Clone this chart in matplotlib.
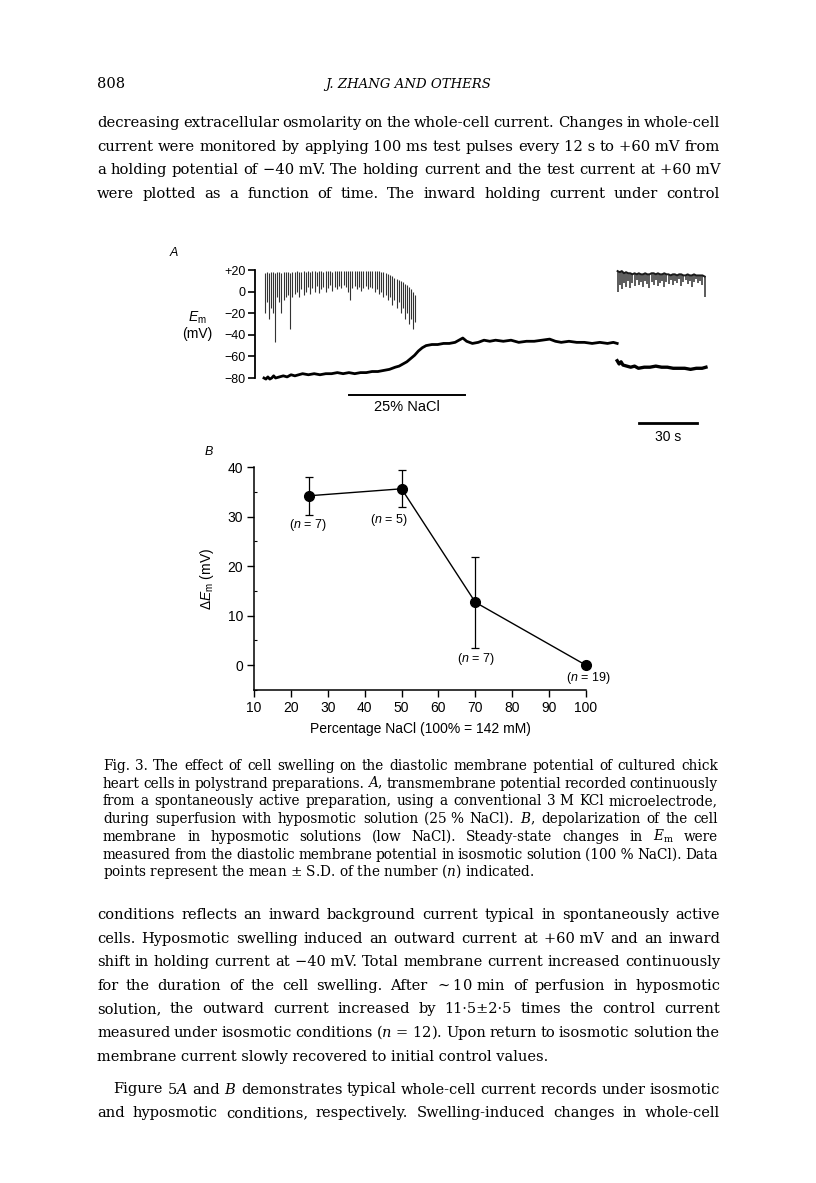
import numpy as np
import matplotlib.pyplot as plt

# ---- page text ----
header_num = "808"
header_title = "J. ZHANG AND OTHERS"

top_lines = [
    "decreasing extracellular osmolarity on the whole-cell current. Changes in whole-cell",
    "current were monitored by applying 100|ms test pulses every 12|s to +60|mV from",
    "a holding potential of \u221240|mV. The holding current and the test current at +60|mV",
    "were plotted as a function of time. The inward holding current under control",
]
caption_lines = [
    "Fig. 3. The effect of cell swelling on the diastolic membrane potential of cultured chick",
    "heart cells in polystrand preparations. $A$, transmembrane potential recorded continuously",
    "from a spontaneously active preparation, using a conventional 3|M KCl microelectrode,",
    "during superfusion with hyposmotic solution (25|% NaCl). $B$, depolarization of the cell",
    "membrane in hyposmotic solutions (low NaCl). Steady-state changes in $E_\\mathrm{m}$ were",
    "measured from the diastolic membrane potential in isosmotic solution (100|% NaCl). Data",
    "points represent the mean|\u00b1|S.D. of the number ($n$) indicated.",
]
bottom_lines = [
    "conditions reflects an inward background current typical in spontaneously active",
    "cells. Hyposmotic swelling induced an outward current at +60|mV and an inward",
    "shift in holding current at \u221240|mV. Total membrane current increased continuously",
    "for the duration of the cell swelling. After $\\sim$10|min of perfusion in hyposmotic",
    "solution, the outward current increased by 11\u00b75\u00b12\u00b75 times the control current",
    "measured under isosmotic conditions ($n$|=|12). Upon return to isosmotic solution the",
    "membrane current slowly recovered to initial control values.",
    "Figure 5$A$ and $B$ demonstrates typical whole-cell current records under isosmotic",
    "and hyposmotic conditions, respectively. Swelling-induced changes in whole-cell",
]
bottom_y = [919, 942.6, 966.2, 989.8, 1013.4, 1037, 1060.6, 1093.5, 1117]

# ---- panel A: membrane potential trace (t in s, Em in mV) ----
base1_t = [0, 1, 2, 3, 4, 5, 6, 8, 10, 12, 14, 16, 18, 20, 23, 26, 29, 32, 35, 38,
           41, 44, 47, 50, 53, 56, 59, 62, 65, 68, 70, 72, 74, 76, 78, 80, 82, 84,
           87, 90, 93, 96, 99, 101, 103, 105, 108, 111, 114, 117, 120, 124, 128,
           132, 136, 140, 144, 148, 151, 154, 158, 162, 166, 170, 174, 178, 181, 183]
base1_v = [-80, -81, -79, -81, -80, -78, -80, -79, -78, -79, -77, -78, -77, -76, -77,
           -76, -77, -76, -76, -75, -76, -75, -76, -75, -75, -74, -74, -73, -72, -70,
           -69, -67, -65, -62, -59, -55, -52, -50, -49, -49, -48, -48, -47, -45, -43,
           -46, -48, -47, -45, -46, -45, -46, -45, -47, -46, -46, -45, -44, -46, -47,
           -46, -47, -47, -48, -47, -48, -47, -48]

spike1_t = [0.5, 1.6, 2.5, 3.5, 4.6, 5.7, 6.8, 7.9, 9.0, 10.2, 11.3, 12.4, 13.6, 14.7,
            15.9, 17.0, 18.2, 19.3, 20.5, 21.6, 22.8, 23.9, 25.1, 26.2, 27.4, 28.5,
            29.7, 30.8, 32.0, 33.1, 34.3, 35.4, 36.6, 37.7, 38.9, 40.0, 41.2, 42.3,
            43.5, 44.6, 45.8, 46.9, 48.1, 49.2, 50.4, 51.5, 52.7, 53.8, 55.0, 56.1,
            57.3, 58.4, 59.6, 60.7, 61.9, 63.0, 64.2, 65.3, 66.5, 67.6, 68.7, 69.8,
            70.9, 72.0, 73.0, 74.0, 75.0, 76.0, 77.0, 78.0]
spike1_peak = [17, 18, 17, 18, 18, 17, 18, 18, 17, 18, 18, 18, 17, 18, 18, 19, 18, 18,
               19, 18, 19, 18, 19, 19, 18, 19, 19, 18, 19, 19, 19, 18, 19, 19, 19, 19,
               19, 19, 19, 19, 19, 19, 19, 19, 19, 19, 19, 19, 19, 19, 19, 19, 19, 18,
               18, 17, 16, 15, 14, 13, 12, 11, 10, 9, 7, 6, 4, 2, 0, -3]
spike1_low = [-20, -10, -25, -15, -20, -47, -5, -10, -20, -8, -5, -3, -35, -5, -2, 0,
              -5, 2, -3, 0, 4, -2, 3, 0, 5, -1, 2, 4, 0, 3, 6, 1, 4, 2, 5, 3, 6, 4,
              0, -8, 3, 5, 2, 4, 1, 3, 5, 2, 4, 3, 0, 2, -2, 0, -5, -3, -8, -5, -12,
              -8, -15, -10, -20, -15, -25, -20, -30, -25, -35, -28]

base2_t = [183, 184, 185, 186, 188, 190, 192, 194, 197, 200, 203, 206, 209, 212, 215,
           218, 221, 224, 227, 229]
base2_v = [-64, -67, -65, -68, -69, -70, -69, -71, -70, -70, -69, -70, -70, -71, -71,
           -71, -72, -71, -71, -70]
spike2_t = [183.2, 184.3, 185.4, 186.5, 187.6, 188.7, 189.8, 190.9, 192.0, 193.1, 194.2,
            195.3, 196.4, 197.5, 198.6, 199.7, 200.8, 201.9, 203.0, 204.1, 205.2,
            206.3, 207.4, 208.5, 209.6, 210.7, 211.8, 212.9, 214.0, 215.1, 216.2,
            217.3, 218.4, 219.5, 220.6, 221.7, 222.8, 223.9, 225.0, 226.1, 227.2, 228.3]
spike2_peak = [19, 18, 19, 17, 18, 17, 17, 16, 17, 16, 17, 16, 16, 17, 16, 16, 17, 17,
               16, 17, 16, 16, 17, 16, 16, 15, 16, 16, 15, 16, 16, 15, 15, 16, 15, 15,
               16, 15, 15, 15, 15, 14]
spike2_low = [0, 6, 2, 8, 4, 10, 3, 8, 5, 11, 6, 9, 4, 10, 7, 3, 9, 6, 11, 5, 8, 10, 4,
              9, 7, 11, 6, 10, 8, 12, 5, 9, 11, 7, 10, 4, 9, 12, 8, 10, 6, -5]

nacl_bar = (44, 104)
scale_bar = (194.3, 224.3)

# ---- panel B ----
nacl_pct = [25, 50, 70, 100]
delta_em = [34.2, 35.6, 12.7, 0.0]
delta_sd = [3.8, 3.7, 9.2, 0.0]
n_labels = ["($n$ = 7)", "($n$ = 5)", "($n$ = 7)", "($n$ = 19)"]
n_pos = [(24.6, 28.3), (46.5, 29.3), (70.2, 1.2), (100.5, -2.6)]

W, H = 816, 1183
plt.rcParams['mathtext.fontset'] = 'custom'
plt.rcParams['mathtext.rm'] = 'Liberation Sans'
plt.rcParams['mathtext.it'] = 'Liberation Sans:italic'
sans = 'Liberation Sans'
serif = 'DejaVu Serif'

fig = plt.figure(figsize=(W / 100, H / 100), dpi=100)
page = fig.add_axes([0, 0, 1, 1])
page.set_xlim(0, W)
page.set_ylim(H, 0)
page.axis('off')
rend = fig.canvas.get_renderer()


def width_of(s, size, **kw):
    t = page.text(0, 0, s, fontsize=size, **kw)
    w = t.get_window_extent(renderer=rend).width
    t.remove()
    return w


def words(line):
    return [w.replace('|', ' ') for w in line.split(' ')]


def text_block(lines, x0, x1, ys, ragged, indent, squeeze=0.75, **kw):
    # pick the size at which the tightest line fits with slightly narrowed
    # spaces, then justify every line that is not a paragraph end
    space10 = width_of('a a', 10, **kw) - width_of('aa', 10, **kw)
    fits = []
    for i, ln in enumerate(lines):
        ws = words(ln)
        nat = sum(width_of(w, 10, **kw) for w in ws) + (len(ws) - 1) * space10 * squeeze
        fits.append((x1 - x0 - indent.get(i, 0)) / nat)
    size = 10 * min(fits)
    for i, ln in enumerate(lines):
        y = ys[i]
        xs = x0 + indent.get(i, 0)
        ws = words(ln)
        if i in ragged:
            page.text(xs, y, ' '.join(ws), fontsize=size, va='baseline', **kw)
            continue
        wd = [width_of(w, size, **kw) for w in ws]
        gap = (x1 - xs - sum(wd)) / (len(ws) - 1)
        x = xs
        for w, d in zip(ws, wd):
            page.text(x, y, w, fontsize=size, va='baseline', **kw)
            x += d + gap
    return size


body_kw = dict(family=serif, math_fontfamily='dejavuserif')
page.text(97, 88, header_num, fontsize=10.5, va='baseline', **body_kw)
hs = 10 * 165 / width_of(header_title, 10, style='italic', **body_kw)
page.text(408, 88, header_title, fontsize=hs, style='italic', ha='center',
          va='baseline', **body_kw)
text_block(top_lines, 97, 720, [127 + 23.6 * i for i in range(4)], set(), {},
           **body_kw)
text_block(caption_lines, 103, 718, [770 + 17.7 * i for i in range(7)], {6}, {},
           **body_kw)
text_block(bottom_lines, 97, 720, bottom_y, {6}, {7: 16}, **body_kw)

# ---- panel A ----
px_per_s = 1.93
t0_px = 264
axA = fig.add_axes([255 / W, 1 - 378 / H, 455 / W, 108 / H])
axA.set_xlim((255 - t0_px) / px_per_s, (710 - t0_px) / px_per_s)
axA.set_ylim(-80, 20)
for sp in ['top', 'right', 'bottom']:
    axA.spines[sp].set_visible(False)
axA.spines['left'].set_linewidth(1.3)
axA.set_xticks([])
axA.set_yticks([20, 0, -20, -40, -60, -80])
axA.set_yticklabels(['+20', '0', '\u221220', '\u221240', '\u221260', '\u221280'])
axA.tick_params(axis='y', direction='out', length=5, width=1.2, pad=2,
                labelsize=9)
for lab in axA.get_yticklabels():
    lab.set_family(sans)
axA.vlines(spike1_t, spike1_low, spike1_peak, color='0.2', lw=0.8, clip_on=False)
axA.vlines(spike2_t, spike2_low, spike2_peak, color='0.25', lw=1.2, clip_on=False)
axA.plot(spike2_t, spike2_peak, color='0.1', lw=1.4, clip_on=False)
axA.plot(base1_t, base1_v, color='black', lw=2.0, clip_on=False)
axA.plot(base2_t, base2_v, color='black', lw=2.4, clip_on=False)
axA.plot(nacl_bar, [-95.7, -95.7], color='black', lw=1.4, clip_on=False)
axA.text(np.mean(nacl_bar), -107, '25% NaCl', ha='center', va='center',
         fontsize=10.5, family=sans)
axA.plot(scale_bar, [-121.7, -121.7], color='black', lw=2.0, clip_on=False)
axA.text(np.mean(scale_bar), -134.5, '30 s', ha='center', va='center',
         fontsize=10, family=sans)
page.text(174, 253, 'A', fontsize=9, style='italic', family=sans,
          ha='center', va='center')
page.text(197, 318, '$E_\\mathrm{m}$', fontsize=10, family=sans, ha='center',
          va='center')
page.text(197, 334, '(mV)', fontsize=10, family=sans, ha='center', va='center')

# ---- panel B ----
axB = fig.add_axes([254 / W, 1 - 690 / H, 332 / W, 223 / H])
axB.set_xlim(10, 100)
axB.set_ylim(-5, 40)
for sp in ['top', 'right']:
    axB.spines[sp].set_visible(False)
axB.spines['left'].set_linewidth(1.1)
axB.spines['bottom'].set_linewidth(1.1)
axB.set_xticks(range(10, 101, 10))
axB.set_yticks([0, 10, 20, 30, 40])
axB.set_yticks([-5, 5, 15, 25, 35], minor=True)
axB.tick_params(axis='both', which='major', direction='out', length=5,
                width=1.0, labelsize=10, pad=3)
axB.tick_params(axis='y', which='minor', direction='in', length=2, width=0.8)
for lab in axB.get_xticklabels() + axB.get_yticklabels():
    lab.set_family(sans)
axB.errorbar(nacl_pct, delta_em, yerr=delta_sd, color='black', lw=1.0,
             marker='o', markersize=7, elinewidth=0.9, capsize=3,
             capthick=0.9, clip_on=False)
for lab, (x, y) in zip(n_labels, n_pos):
    axB.text(x, y, lab, ha='center', va='center', fontsize=9, family=sans)
axB.set_ylabel('$\\Delta E_\\mathrm{m}$ (mV)', fontsize=10, family=sans,
               labelpad=8)
axB.set_xlabel('Percentage NaCl (100% = 142 mM)', fontsize=10, family=sans,
               labelpad=5)
page.text(209, 452, 'B', fontsize=9, style='italic', family=sans,
          ha='center', va='center')

fig.savefig('out.png', dpi=100)
